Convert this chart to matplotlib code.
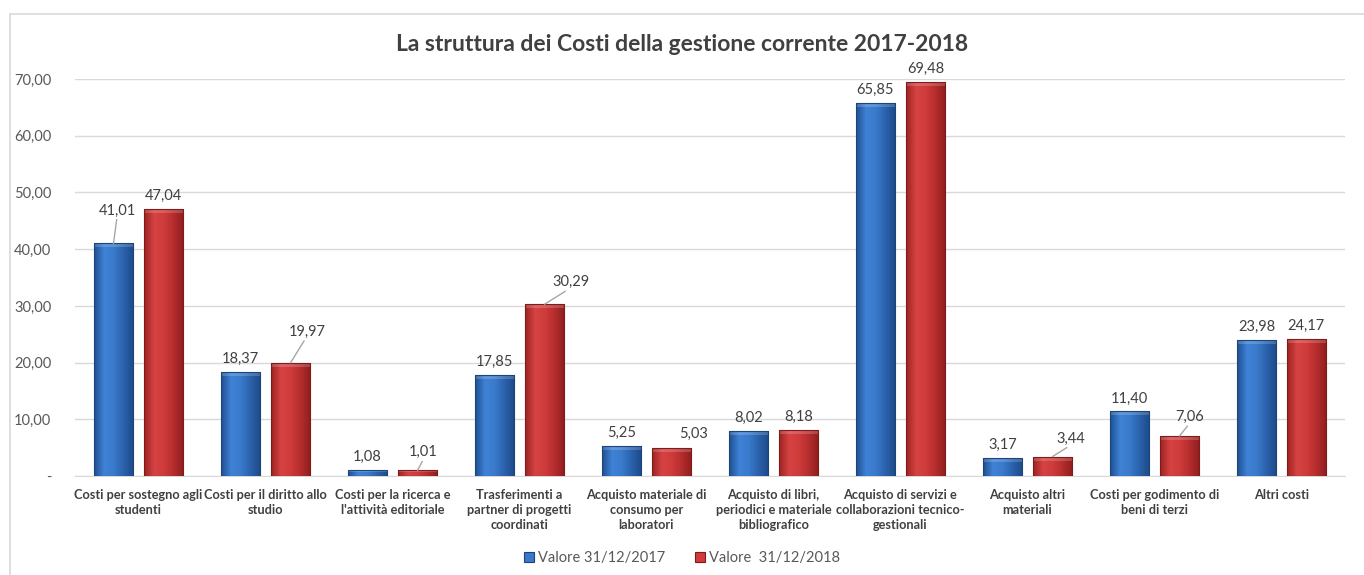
import numpy as np
import matplotlib.pyplot as plt
from matplotlib.colors import LinearSegmentedColormap
from matplotlib.patches import Rectangle, Patch
from matplotlib.lines import Line2D

plt.rcParams['font.family'] = ['Lato', 'DejaVu Sans']

categories = [
    "Costi per sostegno agli\nstudenti",
    "Costi per il diritto allo\nstudio",
    "Costi per la ricerca e\nl'attività editoriale",
    "Trasferimenti a\npartner di progetti\ncoordinati",
    "Acquisto materiale di\nconsumo per\nlaboratori",
    "Acquisto di libri,\nperiodici e materiale\nbibliografico",
    "Acquisto di servizi e\ncollaborazioni tecnico-\ngestionali",
    "Acquisto altri\nmateriali",
    "Costi per godimento di\nbeni di terzi",
    "Altri costi",
]
val_2017 = [41.01, 18.37, 1.08, 17.85, 5.25, 8.02, 65.85, 3.17, 11.40, 23.98]
val_2018 = [47.04, 19.97, 1.01, 30.29, 5.03, 8.18, 69.48, 3.44, 7.06, 24.17]
series_names = ["Valore 31/12/2017", "Valore  31/12/2018"]
yticks = [0, 10, 20, 30, 40, 50, 60, 70]

# moved labels: (dx, dy) in pixels and whether a leader line is drawn
off_2017 = {0: (4, 33, True)}
off_2018 = {1: (17, 31, True), 2: (6, 18, True), 3: (26, 22, True), 4: (22, 14, False),
            7: (18, 18, True), 8: (10, 19, True)}

blue_cmap = LinearSegmentedColormap.from_list("b", ["#1f4f91", "#3f82d6", "#3a7acb", "#2a61ab", "#1d4a88"])
red_cmap = LinearSegmentedColormap.from_list("r", ["#9e2323", "#d64343", "#cf3b3b", "#b52d2d", "#8f1e1e"])

fig = plt.figure(figsize=(13.64, 5.75), dpi=100)
ax = fig.add_axes([0.055, 0.172, 0.931, 0.6906])

x = np.arange(len(categories))
w = 0.31
off = 0.197
bars1 = ax.bar(x - off, val_2017, w, color="#3a78c9", edgecolor="#1b4479", linewidth=0.8, zorder=3)
bars2 = ax.bar(x + off, val_2018, w, color="#d23b3b", edgecolor="#7f1b1b", linewidth=0.8, zorder=3)

grad = np.linspace(0, 1, 64).reshape(1, -1)
for bars, cmap in ((bars1, blue_cmap), (bars2, red_cmap)):
    for b in bars:
        x0, y0 = b.get_x(), b.get_y()
        bw, bh = b.get_width(), b.get_height()
        im = ax.imshow(grad, cmap=cmap, aspect='auto', extent=(x0, x0 + bw, y0, y0 + bh),
                       zorder=3.5, interpolation='bilinear')
        im.set_clip_path(b)
        # soft bevel on top
        hb = min(0.7, bh * 0.3)
        ax.add_patch(Rectangle((x0, y0 + bh - hb), bw, hb,
                               facecolor="white", alpha=0.18, zorder=3.6, linewidth=0))
        b.set_facecolor("none")
        b.set_zorder(4)

ax.set_xlim(-0.5, len(categories) - 0.5)
ax.set_ylim(0, 70)
ax.set_yticks(yticks)
ax.set_yticklabels(["-" if t == 0 else f"{t},00" for t in yticks], color="#595959", fontsize=10.5)
ax.set_xticks(x)
ax.set_xticklabels(categories, fontsize=9.2, fontweight='bold', color="#404040", linespacing=1.3,
                   va='top')
ax.tick_params(axis='both', length=0)
ax.tick_params(axis='y', pad=17)
ax.tick_params(axis='x', pad=9)
ax.grid(axis='y', color="#d9d9d9", linewidth=1, zorder=0)
for s in ['top', 'right', 'left']:
    ax.spines[s].set_visible(False)
ax.spines['bottom'].set_color("#d9d9d9")

px = 0.72  # points per pixel at 100 dpi


def label(bars, vals, offs):
    for i, (b, v) in enumerate(zip(bars, vals)):
        cx = b.get_x() + b.get_width() / 2
        txt = f"{v:.2f}".replace(".", ",")
        if i in offs:
            dx, dy, leader = offs[i]
            ax.annotate(txt, (cx, v), xytext=(dx * px, dy * px),
                        textcoords='offset points', ha='center', va='center', fontsize=10.5,
                        color="#404040", zorder=6)
            if leader:
                ax.annotate("", (cx, v), xytext=(dx * 0.8 * px, (dy - 9) * px),
                            textcoords='offset points', zorder=6,
                            arrowprops=dict(arrowstyle='-', color="#a6a6a6", lw=1.0,
                                            shrinkA=0, shrinkB=0))
        else:
            ax.annotate(txt, (cx, v), xytext=(0, 13 * px), textcoords='offset points',
                        ha='center', va='center', fontsize=10.5, color="#404040", zorder=6)


label(bars1, val_2017, off_2017)
label(bars2, val_2018, off_2018)

fig.text(0.5, 0.923, "La struttura dei Costi della gestione corrente 2017-2018", ha='center',
         va='center', fontsize=16.5, fontweight='bold', color="#404040")

handles = [Patch(facecolor="#3a78c9", edgecolor="#1b4479", linewidth=0.8),
           Patch(facecolor="#d23b3b", edgecolor="#7f1b1b", linewidth=0.8)]
leg = ax.legend(handles, series_names, loc='center', bbox_to_anchor=(0.5, 1 - 558 / 575),
                bbox_transform=fig.transFigure, ncol=2, frameon=False, fontsize=10.5,
                handlelength=0.7, handleheight=0.7, handletextpad=0.3, columnspacing=2.0)
for t in leg.get_texts():
    t.set_color("#595959")

# outer frame (left and top edges visible)
fig.add_artist(Line2D([10 / 1364, 10 / 1364], [0, 1 - 14 / 575], color="#d9d9d9", lw=1.2,
                      transform=fig.transFigure))
fig.add_artist(Line2D([10 / 1364, 1], [1 - 14 / 575, 1 - 14 / 575], color="#d9d9d9", lw=1.2,
                      transform=fig.transFigure))

fig.savefig("out.png", dpi=100)
